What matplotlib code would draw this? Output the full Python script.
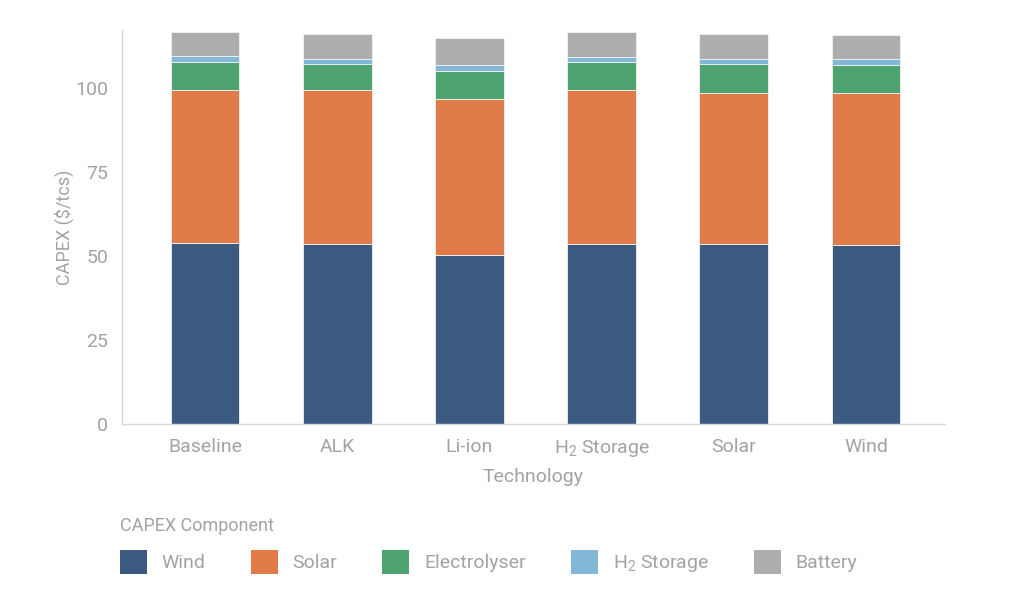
import matplotlib
matplotlib.use("Agg")
import matplotlib.pyplot as plt
from matplotlib.patches import Patch

# ---- data ----
technologies = ["Baseline", "ALK", "Li-ion", "H$_2$ Storage", "Solar", "Wind"]
components = ["Wind", "Solar", "Electrolyser", "H$_2$ Storage", "Battery"]
wind = [53.75, 53.7, 50.3, 53.7, 53.5, 53.2]
solar = [45.85, 45.8, 46.4, 45.8, 45.2, 45.3]
electrolyser = [8.3, 7.7, 8.5, 8.4, 8.6, 8.5]
h2_storage = [1.6, 1.5, 1.6, 1.5, 1.5, 1.6]
battery = [7.3, 7.3, 8.1, 7.3, 7.2, 7.1]
yticks = [0, 25, 50, 75, 100]

series = [wind, solar, electrolyser, h2_storage, battery]
colors = ["#3A5A80", "#E27B4A", "#4EA471", "#82B8D6", "#ADADAD"]

fam = "Roboto"
plt.rcParams["font.family"] = [fam, "DejaVu Sans"]
plt.rcParams["mathtext.fontset"] = "custom"
plt.rcParams["mathtext.rm"] = fam
plt.rcParams["mathtext.it"] = fam
plt.rcParams["mathtext.default"] = "rm"

txt = "#A3A3A3"
fig = plt.figure(figsize=(10.24, 6.02), dpi=100)
ax = fig.add_axes([0.119, 0.296, 0.804, 0.654])

x = list(range(len(technologies)))
bottom = [0.0] * len(x)
for vals, col in zip(series, colors):
    ax.bar(x, vals, width=0.52, bottom=bottom, color=col,
           edgecolor="#F2F2F2", linewidth=0.6)
    bottom = [b + v for b, v in zip(bottom, vals)]

ax.set_xlim(-0.63, 5.6)
ax.set_ylim(0, 117.3)
ax.set_yticks(yticks)
ax.set_xticks(x)
ax.set_xticklabels(technologies)
ax.tick_params(length=0, colors=txt, labelsize=14, pad=10)
for s in ["top", "right"]:
    ax.spines[s].set_visible(False)
for s in ["left", "bottom"]:
    ax.spines[s].set_color("#D9D9D9")
    ax.spines[s].set_linewidth(1)
ax.set_xlabel("Technology", color=txt, fontsize=14, labelpad=7)
ax.set_ylabel("CAPEX ($/tcs)", color=txt, fontsize=13, labelpad=1)

handles = [Patch(facecolor=c, edgecolor="none") for c in colors]
leg = fig.legend(handles, components, loc="upper left",
                 bbox_to_anchor=(0.117, 0.087), ncol=5, frameon=False,
                 fontsize=14, handlelength=1.4, handleheight=1.55,
                 handletextpad=0.75, columnspacing=2.32,
                 borderaxespad=0, borderpad=0)
for t in leg.get_texts():
    t.set_color(txt)
fig.text(0.117, 0.127, "CAPEX Component", color=txt, fontsize=13,
         va="center", ha="left")

fig.savefig("out.png", dpi=100, facecolor="white")
